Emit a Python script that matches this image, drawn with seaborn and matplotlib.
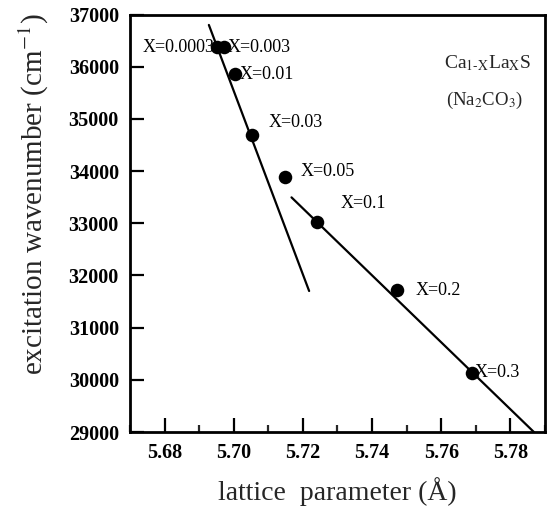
import matplotlib
matplotlib.use("Agg")
import matplotlib.pyplot as plt
import seaborn as sns
import pandas as pd
from matplotlib.ticker import MultipleLocator

# data
labels = ["X=0.0003", "X=0.003", "X=0.01", "X=0.03", "X=0.05", "X=0.1", "X=0.2", "X=0.3"]
lattice = [5.6952, 5.6971, 5.7003, 5.7053, 5.7148, 5.7240, 5.7473, 5.7689]
wavenumber = [36375, 36375, 35856, 34696, 33881, 33015, 31715, 30131]

fit1_x = [5.6928, 5.7218]
fit1_y = [36800, 31702]
fit2_x = [5.7167, 5.7868]
fit2_y = [33496, 29000]

xticks = [5.68, 5.70, 5.72, 5.74, 5.76, 5.78]
yticks = [29000, 30000, 31000, 32000, 33000, 34000, 35000, 36000, 37000]

sns.set_theme(style="ticks")
plt.rcParams["font.family"] = ["Liberation Serif", "DejaVu Serif"]
plt.rcParams["mathtext.fontset"] = "stix"

fig = plt.figure(figsize=(5.51, 5.18), dpi=100)
ax = fig.add_axes([0.236, 0.166, 0.753, 0.806])

df = pd.DataFrame({"lattice": lattice, "wavenumber": wavenumber, "label": labels})
sns.lineplot(x=fit1_x, y=fit1_y, ax=ax, color="black", lw=1.6)
sns.lineplot(x=fit2_x, y=fit2_y, ax=ax, color="black", lw=1.6)
sns.scatterplot(data=df, x="lattice", y="wavenumber", ax=ax, color="black",
                s=95, edgecolor="black", linewidth=0, zorder=5)

# point labels
offsets = {
    "X=0.0003": (-0.0008, 0, "right"),
    "X=0.003": (0.0011, 0, "left"),
    "X=0.01": (0.0013, 0, "left"),
    "X=0.03": (0.0049, 230, "left"),
    "X=0.05": (0.0045, 120, "left"),
    "X=0.1": (0.0068, 370, "left"),
    "X=0.2": (0.0052, 0, "left"),
    "X=0.3": (0.0008, 0, "left"),
}
for lab, xv, yv in zip(labels, lattice, wavenumber):
    dx, dy, ha = offsets[lab]
    ax.text(xv + dx, yv + dy, lab, ha=ha, va="center", fontsize=13, color="black")

ax.text(0.9675, 0.884, r"Ca$_{\mathrm{1\text{-}X}}$La$_{\mathrm{X}}$S", transform=ax.transAxes,
        ha="right", va="center", fontsize=14)
ax.text(0.947, 0.795, r"(Na$_{\mathrm{2}}$CO$_{\mathrm{3}}$)", transform=ax.transAxes,
        ha="right", va="center", fontsize=13.5)

ax.set_xlim(5.67, 5.79)
ax.set_ylim(29000, 37000)
ax.set_xticks(xticks)
ax.set_xticklabels([f"{v:.2f}" for v in xticks])
ax.set_yticks(yticks)
ax.set_yticklabels([str(v) for v in yticks])
ax.xaxis.set_minor_locator(MultipleLocator(0.01))

ax.tick_params(axis="both", which="major", direction="in", length=10, width=1.6,
               labelsize=14.5, pad=8, colors="black")
ax.tick_params(axis="x", which="minor", direction="in", length=5, width=1.6)
for lab in ax.get_xticklabels() + ax.get_yticklabels():
    lab.set_fontweight("bold")
for sp in ax.spines.values():
    sp.set_visible(True)
    sp.set_linewidth(2)
    sp.set_color("black")

ax.set_xlabel(r"lattice  parameter (Å)", fontsize=20, labelpad=10)
ax.set_ylabel(r"excitation wavenumber (cm$^{\mathrm{-1}}$)", fontsize=21)
ax.yaxis.set_label_coords(-0.19, 0.57)

fig.savefig("out.png", dpi=100)
